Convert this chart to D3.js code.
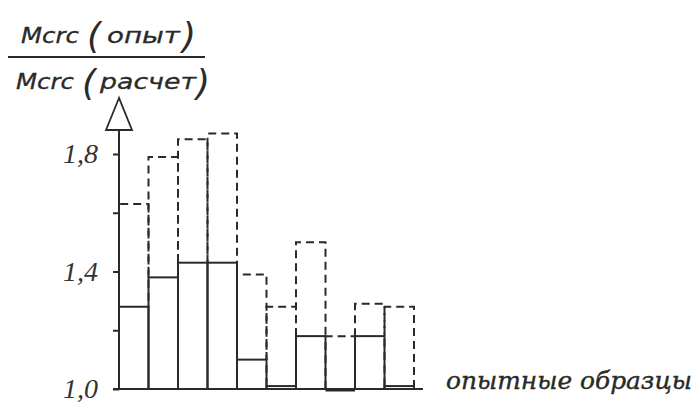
<!DOCTYPE html>
<html><head><meta charset="utf-8">
<script src="https://cdn.jsdelivr.net/npm/d3@7"></script>
<style>body{margin:0;background:#fff}svg{display:block}</style>
</head><body><svg id="c" width="696" height="407"></svg>
<script>
const samples = ["1","2","3","4","5","6","7","8","9","10"];
const solidValues = [1.28,1.38,1.43,1.43,1.10,1.01,1.18,0.995,1.18,1.01];
const dashedValues = [1.63,1.79,1.85,1.87,1.39,1.28,1.50,1.18,1.29,1.28];
const yTicks = [1.0,1.2,1.4,1.6,1.8];
const yTickLabels = {"1":"1,0","1.4":"1,4","1.8":"1,8"};
const xLabel = "опытные образцы";
const yLabelTop = ["Mcrc","(","опыт",")"];
const yLabelBottom = ["Mcrc","(","расчет",")"];

const svg = d3.select("#c");
const ink = "#2a2a2a";
const x = d3.scaleBand().domain(samples).range([119,414]).padding(0);
const y = d3.scaleLinear().domain([1.0,1.8]).range([389,154]);

// dashed outlines
svg.append("g").selectAll("path").data(samples).join("path")
  .attr("d",(s,i)=>{
    const x0=x(s), x1=x0+x.bandwidth();
    const ys=y(Math.max(solidValues[i],1.0)), yd=y(dashedValues[i]);
    return `M${x0},${ys}V${yd}H${x1}V${ys}`;
  })
  .attr("fill","none").attr("stroke",ink).attr("stroke-width",2)
  .attr("stroke-dasharray","8,5");

// solid bars
svg.append("g").selectAll("rect").data(samples).join("rect")
  .attr("x",s=>x(s)).attr("width",x.bandwidth())
  .attr("y",(s,i)=>y(Math.max(solidValues[i],1.0)))
  .attr("height",(s,i)=>Math.max(y(1.0)-y(solidValues[i]),0.01))
  .attr("fill","none").attr("stroke",ink).attr("stroke-width",2);
// bar below baseline (thick)
svg.append("g").selectAll("line").data(samples.filter((s,i)=>solidValues[i]<1.0)).join("line")
  .attr("x1",s=>x(s)).attr("x2",s=>x(s)+x.bandwidth())
  .attr("y1",()=>y(1.0)+1.5).attr("y2",()=>y(1.0)+1.5)
  .attr("stroke",ink).attr("stroke-width",2);

// y axis
const yAxis = d3.axisLeft(y).tickValues(yTicks).tickSize(6).tickFormat("");
const ga = svg.append("g").attr("transform",`translate(${x.range()[0]},0)`).call(yAxis);
ga.select(".domain").remove();
ga.selectAll(".tick line").attr("stroke",ink).attr("stroke-width",2);
svg.append("line").attr("x1",119).attr("x2",119).attr("y1",y(1.0)).attr("y2",130)
  .attr("stroke",ink).attr("stroke-width",2);
svg.append("path").attr("d","M119,98L106,130H132Z").attr("fill","#fff")
  .attr("stroke",ink).attr("stroke-width",1.8).attr("stroke-linejoin","miter");
// x axis
svg.append("line").attr("x1",113).attr("x2",423).attr("y1",y(1.0)).attr("y2",y(1.0))
  .attr("stroke",ink).attr("stroke-width",2);

// tick labels
svg.append("g").selectAll("text").data(yTicks.filter(t=>yTickLabels[String(t)])).join("text")
  .attr("x",98).attr("y",t=>y(t)+9).attr("text-anchor","end")
  .attr("font-family","Liberation Serif, serif").attr("font-style","italic")
  .attr("font-size",28).attr("fill","#333")
  .text(t=>yTickLabels[String(t)]);

// x label
svg.append("text").attr("x",446).attr("y",389)
  .attr("font-family","DejaVu Serif, serif").attr("font-style","italic")
  .attr("font-size",25).attr("fill","#2a2a2a").attr("stroke","#2a2a2a").attr("stroke-width",0.4)
  .attr("textLength",246).attr("lengthAdjust","spacingAndGlyphs")
  .text(xLabel);

// y label fraction
const lab = svg.append("g").attr("font-family","DejaVu Sans, sans-serif").attr("font-style","italic").attr("fill","#2a2a2a");
const big = {stroke:"#2a2a2a"};
lab.append("text").attr("x",21).attr("y",43).attr("font-size",21).attr("stroke","#2a2a2a").attr("stroke-width",0.3).attr("textLength",58).attr("lengthAdjust","spacingAndGlyphs").text(yLabelTop[0]);
lab.append("text").attr("x",87).attr("y",48).attr("font-size",36).attr("font-weight","300").text(yLabelTop[1]);
lab.append("text").attr("x",107).attr("y",43).attr("font-size",21).attr("stroke","#2a2a2a").attr("stroke-width",0.3).attr("textLength",73).attr("lengthAdjust","spacingAndGlyphs").text(yLabelTop[2]);
lab.append("text").attr("x",182).attr("y",48).attr("font-size",36).attr("font-weight","300").text(yLabelTop[3]);
svg.append("line").attr("x1",8).attr("x2",205).attr("y1",57).attr("y2",57).attr("stroke",ink).attr("stroke-width",2);
lab.append("text").attr("x",16).attr("y",89).attr("font-size",21).attr("stroke","#2a2a2a").attr("stroke-width",0.3).attr("textLength",58).attr("lengthAdjust","spacingAndGlyphs").text(yLabelBottom[0]);
lab.append("text").attr("x",82).attr("y",95).attr("font-size",36).attr("font-weight","300").text(yLabelBottom[1]);
lab.append("text").attr("x",100).attr("y",89).attr("font-size",21).attr("stroke","#2a2a2a").attr("stroke-width",0.3).attr("textLength",96).attr("lengthAdjust","spacingAndGlyphs").text(yLabelBottom[2]);
lab.append("text").attr("x",196).attr("y",95).attr("font-size",36).attr("font-weight","300").text(yLabelBottom[3]);
</script></body></html>
